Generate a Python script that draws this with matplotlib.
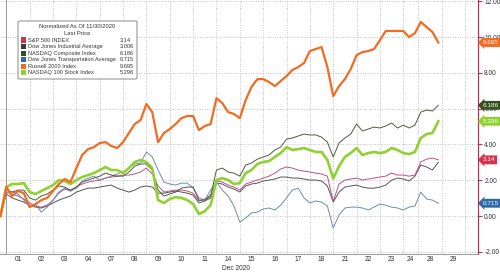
import numpy as np
import matplotlib.pyplot as plt
from matplotlib.patches import FancyBboxPatch, Rectangle

plt.rcParams['font.family'] = ['Liberation Sans', 'DejaVu Sans']

# time in trading sessions since the 11/30 close (24 Dec is a half session)
t = np.arange(-0.25, 18.55, 0.25)

spx = [0.00, 1.34, 1.23, 1.12, 0.95, 0.73, 0.56, 0.50, 0.61, 0.89,
       1.28, 1.51, 1.40, 1.62, 1.79, 1.90, 1.96, 2.01, 2.12, 2.18,
       2.23, 2.29, 2.29, 2.35, 2.46, 2.68, 2.35, 1.68, 1.34, 1.40,
       1.45, 1.45, 1.40, 1.28, 0.84, 0.95, 1.17, 1.96, 1.90, 1.73,
       1.62, 1.45, 1.79, 1.90, 2.01, 2.12, 2.23, 2.40, 2.63, 2.74,
       2.68, 2.57, 2.51, 2.46, 2.40, 2.35, 2.23, 0.82, 1.79, 2.01,
       2.07, 2.12, 2.01, 2.07, 2.12, 2.18, 2.23, 2.40, 2.29, 2.29,
       2.23, 2.29, 3.02, 3.18, 3.24, 3.14]
dji = [0.00, 1.23, 1.01, 0.89, 0.78, 0.61, 0.50, 0.45, 0.56, 0.73,
       0.89, 1.01, 1.12, 1.34, 1.45, 1.56, 1.56, 1.62, 1.68, 1.73,
       1.56, 1.45, 1.34, 1.45, 1.62, 1.68, 1.62, 1.28, 1.28, 1.34,
       1.40, 1.34, 1.28, 1.17, 0.73, 0.84, 1.01, 1.84, 1.79, 1.62,
       1.51, 1.34, 1.68, 1.79, 1.84, 1.96, 2.01, 2.07, 2.18, 2.18,
       2.12, 2.12, 2.07, 2.01, 2.01, 1.96, 1.68, 0.78, 1.34, 1.62,
       1.68, 1.73, 1.62, 1.56, 1.56, 1.62, 1.73, 2.01, 2.12, 2.07,
       1.96, 2.23, 2.85, 2.74, 2.57, 3.006]
ccmp = [0.00, 1.45, 1.34, 1.45, 1.45, 1.01, 0.89, 1.12, 1.23, 1.45,
        1.68, 1.62, 1.45, 1.62, 1.90, 2.01, 2.12, 2.23, 2.40, 2.29,
        2.23, 2.23, 2.46, 2.79, 2.91, 2.91, 2.57, 1.45, 1.12, 1.23,
        1.34, 1.56, 1.62, 1.62, 0.89, 0.89, 1.12, 2.57, 2.68, 2.46,
        2.40, 2.23, 2.85, 2.96, 3.18, 3.30, 3.41, 3.69, 3.85, 4.30,
        4.36, 4.47, 4.58, 4.53, 4.53, 4.41, 4.13, 3.30, 4.08, 4.36,
        4.58, 5.14, 4.75, 4.86, 4.97, 4.92, 5.03, 5.20, 4.92, 5.08,
        4.92, 5.08, 5.81, 5.92, 5.87, 6.186]
tran = [0.00, 1.45, 1.34, 1.23, 0.89, 0.56, 0.67, 0.22, 0.50, 0.89,
        1.34, 1.56, 1.40, 1.56, 1.96, 2.12, 2.23, 2.01, 2.12, 2.23,
        2.35, 2.46, 2.68, 2.91, 2.96, 3.58, 3.30, 2.57, 1.90, 1.79,
        1.73, 1.84, 1.84, 1.56, 1.01, 0.89, 1.45, 1.90, 1.45, 1.12,
        0.56, -0.34, -0.11, 0.17, 0.22, 0.39, 0.45, 0.34, 0.61, 1.01,
        1.45, 1.56, 1.01, 0.73, 0.84, 0.78, 0.56, -0.67, 0.06, 0.45,
        0.50, 0.50, 0.45, 0.34, 0.50, 0.67, 0.61, 0.50, 0.45, 0.34,
        0.50, 0.56, 1.34, 0.95, 0.89, 0.715]
rty = [0.00, 1.62, 1.12, 1.40, 1.28, 0.50, 0.67, 0.89, 1.01, 1.40,
       1.79, 2.07, 1.90, 2.68, 3.41, 3.74, 3.85, 4.08, 4.13, 3.91,
       3.80, 4.13, 4.64, 5.14, 5.36, 6.26, 5.81, 4.13, 4.64, 4.86,
       5.14, 5.47, 5.59, 5.59, 4.80, 5.03, 5.14, 6.59, 6.31, 5.81,
       5.70, 5.47, 6.48, 7.21, 7.65, 7.65, 7.49, 7.26, 7.54, 7.82,
       8.16, 8.32, 8.55, 9.22, 9.33, 9.44, 8.32, 6.70, 7.26, 7.65,
       8.21, 8.99, 9.16, 9.22, 9.33, 9.83, 10.34, 10.34, 10.34, 10.34,
       10.00, 10.22, 10.84, 10.56, 10.28, 9.695]
ndx = [0.00, 1.62, 1.79, 1.79, 1.84, 1.34, 1.23, 1.40, 1.56, 1.73,
       2.01, 1.96, 1.79, 2.01, 2.18, 2.29, 2.40, 2.57, 2.74, 2.57,
       2.57, 2.40, 2.68, 3.02, 3.13, 3.02, 2.68, 0.89, 0.73, 0.95,
       1.06, 1.01, 0.89, 0.67, 0.11, 0.28, 0.61, 2.01, 2.12, 2.01,
       1.79, 1.84, 2.40, 2.57, 2.91, 3.02, 3.07, 3.30, 3.52, 3.85,
       3.69, 3.74, 3.80, 3.69, 3.58, 3.58, 3.13, 2.10, 2.79, 3.30,
       3.52, 3.80, 3.41, 3.52, 3.58, 3.52, 3.58, 3.80, 3.69, 3.52,
       3.46, 3.58, 4.36, 4.58, 4.64, 5.296]

names = ["S&P 500 INDEX", "Dow Jones Industrial Average", "NASDAQ Composite Index",
         "Dow Jones Transportation Average", "Russell 2000 Index", "NASDAQ 100 Stock Index"]
last = ["3.14", "3.006", "6.186", "0.715", "9.695", "5.296"]

# session boundaries and date labels
bounds = [0, 1, 2, 3, 4, 5, 6, 7, 8, 9, 10, 11, 12, 13, 14, 15, 16, 17, 17.65, 18.65, 19.65]
days = ["01", "02", "03", "04", "07", "08", "09", "10", "11", "14",
        "15", "16", "17", "18", "21", "22", "23", "24", "28", "29"]

box_col = ["#d9304c", "#3c3c3c", "#35501f", "#2f69a6", "#f26b21", "#8fd12f"]
line_col = ["#bb5283", "#555555", "#4d5a44", "#6d8cab", "#f26b21", "#8fd12f"]
line_w = [0.7, 0.7, 0.7, 0.7, 1.6, 1.9]
series = [spx, dji, ccmp, tran, rty, ndx]

fig = plt.figure(figsize=(5.0, 2.72), dpi=100)
ax = fig.add_axes([0.0, 18/272, 478/500, 254/272])

for i in [1, 0, 3, 2, 5, 4]:
    ax.plot(t, series[i], color=line_col[i], lw=line_w[i],
            solid_joinstyle='round', zorder=3 + (i >= 4))

ax.set_xlim(-0.27, 20.2)
ax.set_ylim(-2.12, 12.07)

# grid
for b in bounds:
    ax.axvline(b, color="#c4c4c4", lw=0.7, ls=(0, (1, 1.5)), zorder=1)
for y in range(-2, 13, 2):
    ax.axhline(y, color="#c4c4c4", lw=0.7, ls=(0, (1, 1.5)), zorder=1)
ax.axvline(0, color="#9a9a9a", lw=0.7, zorder=1)

mids = [(bounds[i] + bounds[i + 1]) / 2 for i in range(len(days))]
ax.set_xticks(mids)
ax.set_xticklabels(days)
ax.tick_params(axis='x', length=0, labelsize=4.8, labelcolor="#333333", pad=1.5)

ax.yaxis.tick_right()
ax.set_yticks(range(-2, 13, 2))
ax.set_yticklabels(["%.2f" % v for v in range(-2, 13, 2)])
ax.tick_params(axis='y', length=3, width=0.8, color="#b8325a", labelsize=4.8,
               labelcolor="#333333", pad=1.5)

for s in ["top", "left"]:
    ax.spines[s].set_visible(False)
ax.spines["right"].set_color("#b8325a")
ax.spines["right"].set_linewidth(0.9)
ax.spines["bottom"].set_color("#9a9a9a")
ax.spines["bottom"].set_linewidth(0.7)

fig.text(236/500, 4/272, "Dec 2020", fontsize=4.8, color="#333333", ha="center", va="center")

# last price tags on right axis
for i in [2, 5, 0, 3, 4]:
    ax.annotate(last[i], xy=(1, series[i][-1]), xycoords=ax.get_yaxis_transform(),
                xytext=(3.4, 0), textcoords="offset points", va="center", ha="left",
                fontsize=4.6, color="white", annotation_clip=False, zorder=10,
                bbox=dict(boxstyle="larrow,pad=0.3", fc=box_col[i], ec="none"))

# legend box
W, H = 500.0, 272.0
fig.patches.append(FancyBboxPatch((18/W, 1 - 79/H), 119/W, 58/H, transform=fig.transFigure,
                                  boxstyle="round,pad=0,rounding_size=0.004",
                                  fc="white", ec="#8a8a8a", lw=0.7, zorder=20))
fig.text(77/W, 1 - 27/H, "Normalized As Of 11/30/2020", fontsize=4.2, ha="center",
         va="center", color="#333333", zorder=21)
fig.text(77/W, 1 - 33.5/H, "Last Price", fontsize=4.2, ha="center", va="center",
         color="#333333", zorder=21)
for k in range(6):
    yy = 1 - (40 + 6.6 * k) / H
    fig.patches.append(Rectangle((21/W, yy - 2.5/H), 5/W, 5/H, transform=fig.transFigure,
                                 fc=box_col[k], ec="none", zorder=21))
    fig.text(28.5/W, yy, names[k], fontsize=4.1, va="center", color="#333333", zorder=21)
    fig.text(119.5/W, yy, last[k], fontsize=4.1, va="center", color="#333333", zorder=21)

fig.savefig("out.png", dpi=100)
